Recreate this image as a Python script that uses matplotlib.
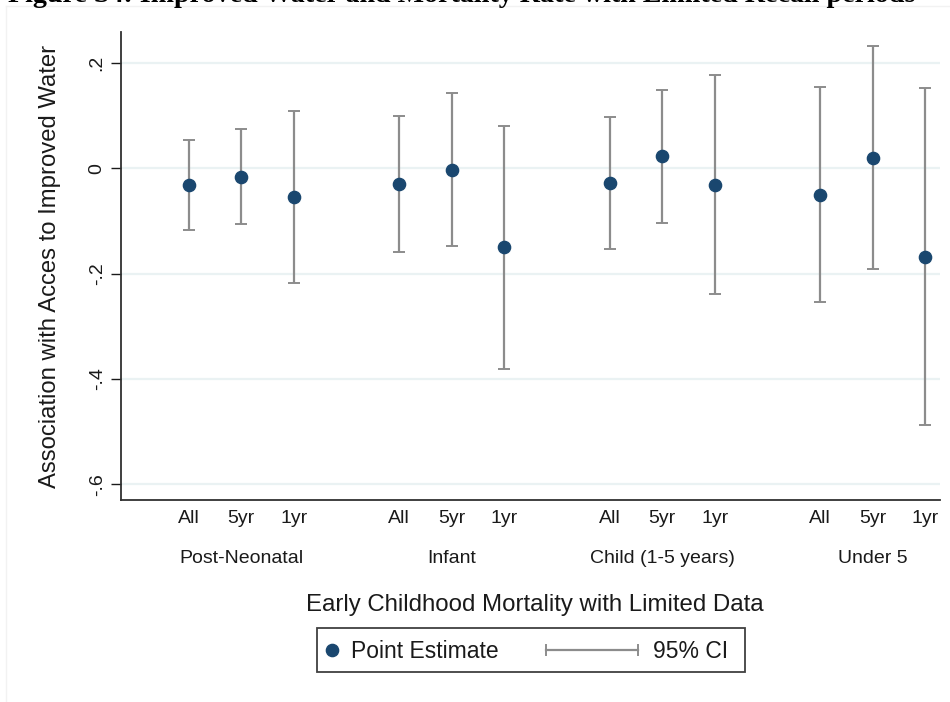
import matplotlib
matplotlib.use("Agg")
import matplotlib.pyplot as plt
from matplotlib.lines import Line2D
from matplotlib.patches import Rectangle
from matplotlib.transforms import blended_transform_factory

plt.rcParams["font.family"] = ["Liberation Sans", "DejaVu Sans"]

_NAVY = "#1a476f"
_CI = "#8c8c8c"
_GRID = "#eaf2f3"
_INK = "#1a1a1a"

groups = ["Post-Neonatal", "Infant", "Child (1-5 years)", "Under 5"]
periods = ["All", "5yr", "1yr"]

# point estimates and 95% CI bounds, group by group (All, 5yr, 1yr)
estimate = [-0.032, -0.017, -0.054,
            -0.030, -0.003, -0.150,
            -0.027, 0.023, -0.031,
            -0.050, 0.020, -0.168]
ci_upper = [0.054, 0.075, 0.109,
            0.099, 0.143, 0.080,
            0.098, 0.148, 0.178,
            0.155, 0.232, 0.153]
ci_lower = [-0.118, -0.106, -0.217,
            -0.159, -0.148, -0.381,
            -0.153, -0.103, -0.238,
            -0.253, -0.191, -0.487]

yticks = [0.2, 0.0, -0.2, -0.4, -0.6]
yticklabels = [".2", "0", "-.2", "-.4", "-.6"]

W, H = 950, 702


def fx(px):
    return px / W


def fy(py):
    return 1 - py / H


fig = plt.figure(figsize=(W / 100, H / 100), dpi=100)
ax = fig.add_axes([fx(121), fy(500), fx(940) - fx(121), fy(32) - fy(500)])

# slot positions: three periods per group, one empty slot between groups
xs = [g * 4 + k + 1 for g in range(len(groups)) for k in range(len(periods))]
yerr = [[e - lo for e, lo in zip(estimate, ci_lower)],
        [hi - e for e, hi in zip(estimate, ci_upper)]]

ax.errorbar(xs, estimate, yerr=yerr, fmt="none", ecolor=_CI, elinewidth=1.6,
            capsize=4, capthick=1.4, zorder=2)
ax.plot(xs, estimate, "o", color=_NAVY, markersize=8.8, zorder=3)

ax.set_xlim(-0.287, 15.28)
ax.set_ylim(-0.630, 0.259)
ax.set_yticks(yticks)
ax.set_yticklabels(yticklabels, rotation=90, va="center", fontsize=14, color=_INK)
ax.tick_params(axis="y", length=7, width=1.0, pad=4, color=_INK)
ax.set_xticks(xs)
ax.set_xticklabels(periods * len(groups), fontsize=14, color=_INK)
ax.tick_params(axis="x", length=0, pad=7.5)

ax.grid(axis="y", color=_GRID, linewidth=1.6)
ax.set_axisbelow(True)
for side in ("top", "right"):
    ax.spines[side].set_visible(False)
for side in ("left", "bottom"):
    ax.spines[side].set_color("#303030")
    ax.spines[side].set_linewidth(1.3)

trans = blended_transform_factory(ax.transData, fig.transFigure)
for g, name in enumerate(groups):
    ax.text(g * 4 + 2, fy(558.5), name, transform=trans, ha="center", va="center",
            fontsize=14, color=_INK)

ax.set_ylabel("Association with Acces to Improved Water", fontsize=17.2,
              color=_INK, labelpad=20)
fig.text(fx(535), fy(605), "Early Childhood Mortality with Limited Data",
         ha="center", va="center", fontsize=17.3, color=_INK)

# legend drawn by hand: dot for the estimate, capped horizontal bar for the CI
fig.add_artist(Rectangle((fx(317), fy(672)), fx(745) - fx(317), fy(628) - fy(672),
                         transform=fig.transFigure, facecolor="white",
                         edgecolor="#404040", linewidth=1.3))
fig.add_artist(Line2D([fx(332)], [fy(650)], marker="o", color=_NAVY,
                      markersize=8.8, transform=fig.transFigure))
fig.text(fx(351), fy(652), "Point Estimate", ha="left", va="center",
         fontsize=16.5, color=_INK)
fig.add_artist(Line2D([fx(546), fx(638)], [fy(650), fy(650)], color=_CI,
                      linewidth=1.6, transform=fig.transFigure))
for px in (546, 638):
    fig.add_artist(Line2D([fx(px), fx(px)], [fy(645), fy(655)], color=_CI,
                          linewidth=1.4, transform=fig.transFigure))
fig.text(fx(653), fy(652), "95% CI", ha="left", va="center",
         fontsize=16.5, color=_INK)

# page title above the graph, cut off by the crop as in the source
fig.text(fx(462), fy(2.5), "Figure S4: Improved Water and Mortality Rate with Limited Recall periods",
         ha="center", va="baseline", fontsize=20.2, fontweight="bold",
         family=["Liberation Serif", "DejaVu Serif"], color="black")
fig.add_artist(Line2D([fx(6), fx(950)], [fy(6), fy(6)], color="#f2f2f2",
                      linewidth=1, transform=fig.transFigure))
fig.add_artist(Line2D([fx(6), fx(6)], [fy(6), fy(702)], color="#f2f2f2",
                      linewidth=1, transform=fig.transFigure))

fig.savefig("out.png", dpi=100, facecolor="white")
